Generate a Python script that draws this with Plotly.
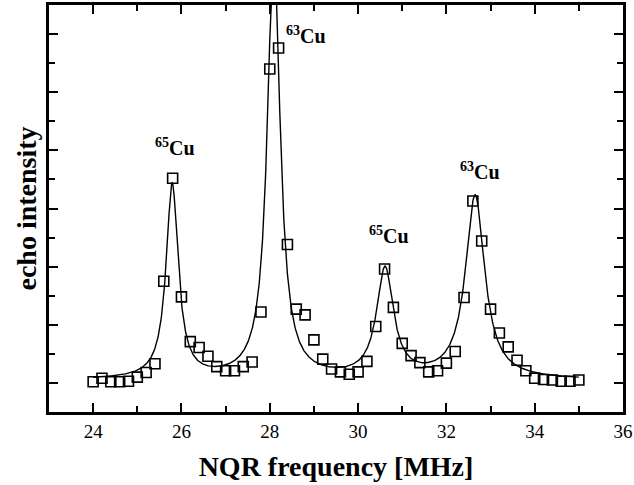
import numpy as np
import plotly.graph_objects as go

# Measured data (NQR frequency in MHz, echo intensity in arbitrary units)
freq = [24.0, 24.2, 24.4, 24.6, 24.8, 25.0, 25.2, 25.4, 25.6, 25.8,
        26.0, 26.2, 26.4, 26.6, 26.8, 27.0, 27.2, 27.4, 27.6, 27.8,
        28.0, 28.2, 28.4, 28.6, 28.8, 29.0, 29.2, 29.4, 29.6, 29.8,
        30.0, 30.2, 30.4, 30.6, 30.8, 31.0, 31.2, 31.4, 31.6, 31.8,
        32.0, 32.2, 32.4, 32.6, 32.8, 33.0, 33.2, 33.4, 33.6, 33.8,
        34.0, 34.2, 34.4, 34.6, 34.8, 35.0]
intensity = [0.02, 0.08, 0.02, 0.02, 0.03, 0.10, 0.18, 0.33, 1.75, 3.52,
             1.48, 0.71, 0.61, 0.46, 0.28, 0.21, 0.21, 0.28, 0.36, 1.22,
             5.40, 5.76, 2.38, 1.27, 1.17, 0.74, 0.41, 0.24, 0.19, 0.15,
             0.19, 0.37, 0.97, 1.96, 1.30, 0.68, 0.47, 0.35, 0.19, 0.21,
             0.34, 0.54, 1.47, 3.13, 2.44, 1.27, 0.86, 0.62, 0.39, 0.21,
             0.08, 0.06, 0.05, 0.03, 0.03, 0.05]

# Lorentzian fit parameters
fit_centers = [25.79, 28.09, 30.61, 32.65]
fit_amps = [3.34, 7.36, 1.87, 3.15]
fit_hwhm = [0.165, 0.175, 0.23, 0.263]
fit_base = 0.05

# Peak labels
label_iso = ["65", "63", "65", "63"]
label_x = [25.86, 28.83, 30.70, 32.75]
label_y = [4.05, 5.99, 2.55, 3.64]

xfit = np.linspace(24.0, 35.0, 1500)
yfit = np.full_like(xfit, fit_base)
for c, a, g in zip(fit_centers, fit_amps, fit_hwhm):
    yfit += a / (1.0 + ((xfit - c) / g) ** 2)

fig = go.Figure()
fig.add_trace(go.Scatter(x=xfit, y=yfit, mode="lines",
                         line=dict(color="black", width=1.4),
                         hoverinfo="skip", showlegend=False))
fig.add_trace(go.Scatter(x=freq, y=intensity, mode="markers",
                         marker=dict(symbol="square-open", size=10,
                                     color="black", line=dict(width=1.6)),
                         showlegend=False))

serif = "Liberation Serif, Times New Roman, serif"
for iso, lx, ly in zip(label_iso, label_x, label_y):
    fig.add_annotation(x=lx, y=ly, text=f"<b><sup>{iso}</sup>Cu</b>",
                       showarrow=False,
                       font=dict(family=serif, size=20, color="black"))

fig.update_xaxes(range=[23, 36], dtick=2, tick0=24, automargin=False,
                 ticks="inside", ticklen=9, tickwidth=2, tickcolor="black",
                 minor=dict(dtick=1, ticks="inside", ticklen=6, tickwidth=2,
                            tickcolor="black"),
                 showline=True, linewidth=3, linecolor="black", mirror="ticks",
                 showgrid=False, zeroline=False,
                 tickfont=dict(family=serif, size=19, color="black"),
                 title=dict(text="<b>NQR frequency [MHz]</b>",
                            font=dict(family=serif, size=28, color="black"),
                            standoff=16))
fig.update_yaxes(range=[-0.5, 6.5], dtick=1, tick0=0, automargin=False,
                 ticks="inside", ticklen=9, tickwidth=2, tickcolor="black",
                 minor=dict(dtick=0.5, ticks="inside", ticklen=6, tickwidth=2,
                            tickcolor="black"),
                 showticklabels=False,
                 showline=True, linewidth=3, linecolor="black", mirror="ticks",
                 showgrid=False, zeroline=False,
                 title=dict(text="<b>echo intensity</b>",
                            font=dict(family=serif, size=28, color="black"),
                            standoff=2))

fig.update_layout(width=634, height=485,
                  margin=dict(l=49, r=11, t=5, b=73),
                  paper_bgcolor="white", plot_bgcolor="white")

fig.write_html("out.html",
               config={"displayModeBar": False},
               post_script="document.body.style.margin='0px';")
